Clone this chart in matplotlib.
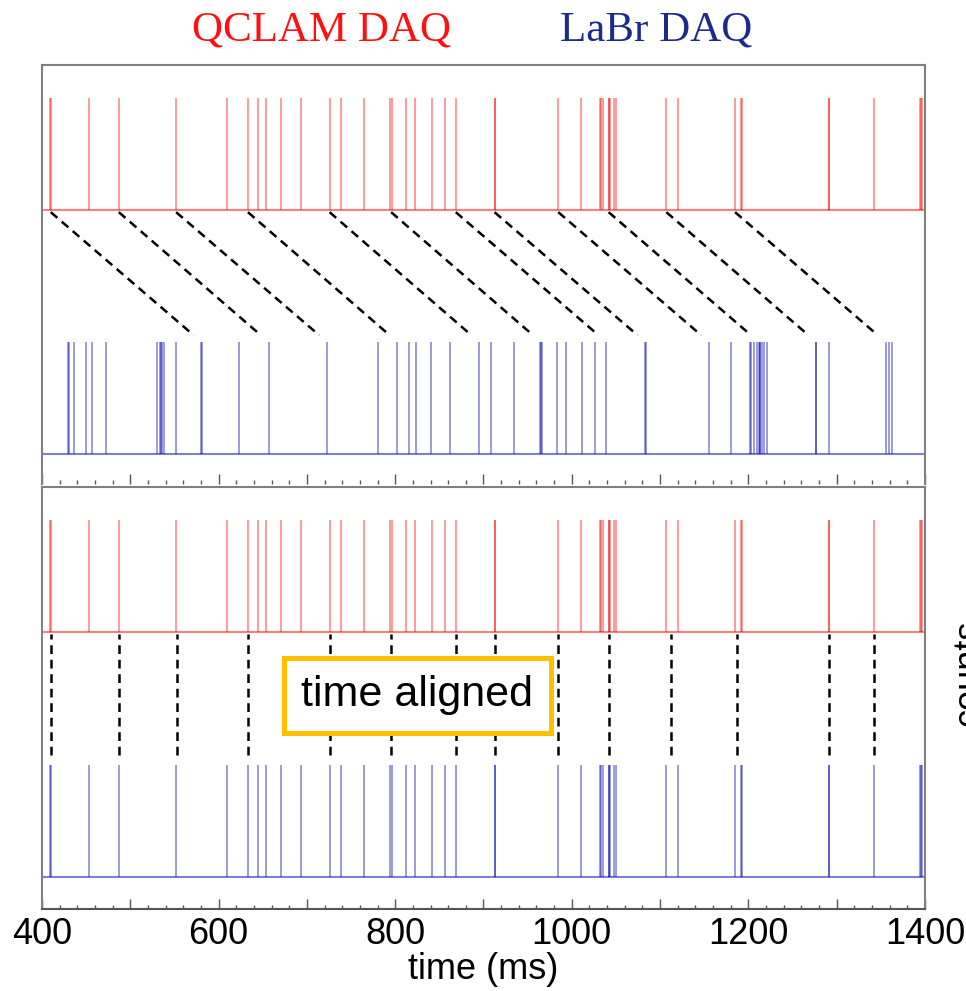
import numpy as np
import matplotlib
matplotlib.use('Agg')
import matplotlib.pyplot as plt
from matplotlib.ticker import MultipleLocator, FuncFormatter
from matplotlib.patches import Rectangle

plt.rcParams['font.family'] = ['Liberation Sans', 'DejaVu Sans']

# event times (ms)
qclam_times = [409.4, 410.2, 453.3, 487.0, 551.9, 609.8, 633.2, 644.6, 653.6, 670.6,
               692.9, 725.7, 739.0, 765.1, 794.6, 796.8, 812.4, 822.9, 841.8, 856.9,
               868.6, 912.5, 912.9, 984.7, 1010.3, 1032.1, 1033.2, 1035.7, 1041.7,
               1042.5, 1043.2, 1047.7, 1050.4, 1107.1, 1119.9, 1184.9, 1191.3, 1192.7,
               1291.2, 1291.6, 1341.8, 1394.3, 1395.5, 1396.6]

labr_raw_times = [429.1, 430.6, 435.9, 450.2, 457.0, 472.2, 530.4, 534.1, 535.3, 536.4,
                  538.0, 551.9, 580.2, 580.9, 623.0, 656.6, 722.8, 780.6, 802.5, 815.3,
                  824.0, 840.7, 862.2, 895.1, 908.3, 934.4, 963.8, 964.9, 966.1, 982.8,
                  993.8, 1011.5, 1026.6, 1039.1, 1083.0, 1083.6, 1155.4, 1180.8, 1201.9,
                  1203.5, 1205.8, 1210.3, 1211.8, 1212.6, 1213.7, 1215.6, 1217.8, 1220.5,
                  1276.5, 1277.1, 1290.8, 1355.4, 1359.2, 1362.6]

# after alignment the LaBr events sit on the QCLAM events
labr_aligned_times = list(qclam_times)

# matched pairs drawn with dashed links
link_qclam = [409.9, 487.0, 551.9, 633.2, 725.7, 795.4, 868.6, 912.5, 984.7, 1041.7, 1107.1, 1184.9]
link_labr = [580.6, 656.6, 722.8, 802.5, 895.1, 964.9, 1039.1, 1083.3, 1155.4, 1211.8, 1276.8, 1355.4]
aligned_marks = [409.9, 487.0, 552.7, 633.2, 725.7, 795.4, 868.6, 912.5, 984.7, 1041.7,
                 1112.0, 1187.0, 1291.2, 1341.8]

xmin, xmax = 400, 1400
red = '#ff0000'
blue = '#0000b0'
grey = '#808080'
dash = (0, (3.5, 2.3))

fig = plt.figure(figsize=(9.66, 9.91), dpi=100)
W, H = 966, 991
ax_top = fig.add_axes([42 / W, 1 - 484 / H, 883 / W, 419 / H])
ax_bot = fig.add_axes([42 / W, 1 - 909 / H, 883 / W, 422 / H])


def spikes(ax, times, base, color):
    ax.vlines(times, base, base + 1, color=color, alpha=0.5, lw=1.1)
    ax.hlines(base, xmin, xmax, color=color, alpha=0.5, lw=1.5)


def style(ax, labels):
    ax.set_xlim(xmin, xmax)
    ax.set_yticks([])
    ax.xaxis.set_major_locator(MultipleLocator(100))
    ax.xaxis.set_minor_locator(MultipleLocator(20))
    ax.tick_params(axis='x', which='major', direction='in', length=7, width=1,
                   color='#555555', labelsize=26, pad=6)
    ax.tick_params(axis='x', which='minor', direction='in', length=3, width=1,
                   color='#555555')
    for s in ax.spines.values():
        s.set_color(grey)
        s.set_linewidth(1.5)
    if labels:
        ax.xaxis.set_major_formatter(FuncFormatter(
            lambda v, p: f"{int(round(v))}" if round(v) % 200 == 0 else ""))
    else:
        ax.set_xticklabels([])


# top panel: raw timestamps
red_base_t = 2.179
spikes(ax_top, qclam_times, red_base_t, red)
spikes(ax_top, labr_raw_times, 0, blue)
for tq, tl in zip(link_qclam, link_labr):
    y0 = red_base_t - 0.02
    y1 = 1.0
    f = (y0 - 1.06) / (y0 - y1)
    ax_top.plot([tq, tq + f * (tl - tq)], [y0, 1.06], color='black', lw=1.8, ls=dash)
ax_top.set_ylim(-0.268, 3.473)
style(ax_top, False)
ax_top.spines['bottom'].set_visible(False)

# bottom panel: time aligned
red_base_b = 2.1875
spikes(ax_bot, qclam_times, red_base_b, red)
spikes(ax_bot, labr_aligned_times, 0, blue)
ax_bot.vlines(aligned_marks, 1.09, red_base_b - 0.02, color='black', lw=1.8,
              linestyles=[dash])
ax_bot.set_ylim(-0.286, 3.482)
style(ax_bot, True)
ax_bot.spines['bottom'].set_color('#555555')
ax_bot.set_xlabel('time (ms)', fontsize=26, labelpad=0)

# labelled box
fig.add_artist(Rectangle((283.5 / W, 1 - 732.5 / H), 267 / W, 75 / H,
                         transform=fig.transFigure, facecolor='white',
                         edgecolor='#ffc000', lw=3.6, zorder=5))
fig.text(417 / W, 1 - 695 / H, 'time aligned', fontsize=31, ha='center',
         va='center', zorder=6)

fig.text(322 / W, 1 - 30 / H, 'QCLAM DAQ', color='#ff1010', fontsize=31,
         family=['Liberation Serif', 'DejaVu Serif'], ha='center', va='center')
fig.text(656 / W, 1 - 30 / H, 'LaBr DAQ', color='#1c2a8c', fontsize=31,
         family=['Liberation Serif', 'DejaVu Serif'], ha='center', va='center')

# axis title that runs off the right edge, as in the source figure
fig.text(951 / W, 1 - 673 / H, 'counts', fontsize=26, rotation=90,
         ha='left', va='center')

fig.savefig('out.png', dpi=100)
